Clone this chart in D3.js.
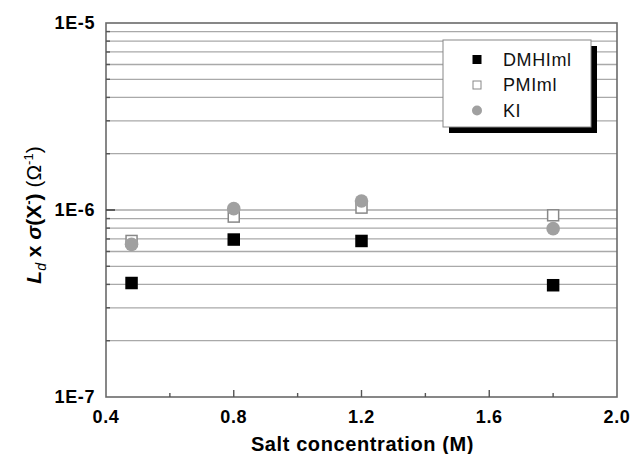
<!DOCTYPE html>
<html><head><meta charset="utf-8">
<script src="https://cdn.jsdelivr.net/npm/d3@7"></script>
<style>
html,body{margin:0;padding:0;background:#fff;}
text{font-family:"Liberation Sans",Arial,sans-serif;}
</style></head>
<body>
<svg id="c" width="632" height="454"></svg>
<script>
// ---- data ----
const concentrations = [0.48, 0.8, 1.2, 1.8];
const dmhiml = [4.07e-7, 6.95e-7, 6.83e-7, 3.96e-7];
const pmiml  = [6.83e-7, 9.22e-7, 1.03e-6, 9.37e-7];
const ki     = [6.55e-7, 1.017e-6, 1.117e-6, 7.95e-7];
const xTickValues = [0.4, 0.8, 1.2, 1.6, 2.0];
const xMinorTicks = [0.6, 1.0, 1.4, 1.8];
const yTickValues = [1e-7, 1e-6, 1e-5];
const yTickLabels = ["1E-7", "1E-6", "1E-5"];
const seriesNames = ["DMHIml", "PMIml", "KI"];

const svg = d3.select("#c");
const L = 106, R = 617, T = 23, B = 397;
const x = d3.scaleLinear().domain([0.4, 2.0]).range([L, R]);
const y = d3.scaleLog().domain([1e-7, 1e-5]).range([B, T]);

// minor grid values
const minorY = [];
[1e-7, 1e-6].forEach(d => { for (let k = 2; k <= 9; k++) minorY.push(k * d); });
const gridY = minorY.concat([1e-6]);

svg.append("g").selectAll("line").data(gridY).join("line")
  .attr("x1", L).attr("x2", R)
  .attr("y1", d => y(d)).attr("y2", d => y(d))
  .attr("stroke", "#a9a9a9").attr("stroke-width", 1.3);

// frame
svg.append("rect").attr("x", L).attr("y", T).attr("width", R - L).attr("height", B - T)
  .attr("fill", "none").attr("stroke", "#6a6a6a").attr("stroke-width", 1.6);

// y ticks (inward)
svg.append("g").selectAll("line").data(minorY).join("line")
  .attr("x1", L).attr("x2", L + 4).attr("y1", d => y(d)).attr("y2", d => y(d))
  .attr("stroke", "#555").attr("stroke-width", 1.4);
svg.append("g").selectAll("line").data([1e-6]).join("line")
  .attr("x1", L).attr("x2", L + 9).attr("y1", d => y(d)).attr("y2", d => y(d))
  .attr("stroke", "#444").attr("stroke-width", 1.6);

// x ticks (inward)
svg.append("g").selectAll("line").data(xTickValues.slice(1, -1)).join("line")
  .attr("x1", d => x(d)).attr("x2", d => x(d)).attr("y1", B).attr("y2", B - 7)
  .attr("stroke", "#555").attr("stroke-width", 1.4);
svg.append("g").selectAll("line").data(xMinorTicks).join("line")
  .attr("x1", d => x(d)).attr("x2", d => x(d)).attr("y1", B).attr("y2", B - 4)
  .attr("stroke", "#555").attr("stroke-width", 1.4);

// tick labels
svg.append("g").selectAll("text").data(yTickValues).join("text")
  .attr("x", L - 11).attr("y", d => y(d)).attr("dy", "0.36em")
  .attr("text-anchor", "end").attr("font-weight", "bold").attr("font-size", 18)
  .attr("letter-spacing", 0.6)
  .text((d, i) => yTickLabels[i]);
svg.append("g").selectAll("text").data(xTickValues).join("text")
  .attr("x", d => x(d)).attr("y", 417).attr("dy", "0.36em")
  .attr("text-anchor", "middle").attr("font-weight", "bold").attr("font-size", 18)
  .attr("letter-spacing", 0.6)
  .text(d => d.toFixed(1));

// axis titles
svg.append("text").attr("x", (L + R) / 2 + 1).attr("y", 444).attr("dy", "0.36em")
  .attr("text-anchor", "middle").attr("font-weight", "bold").attr("font-size", 20)
  .attr("letter-spacing", 0.6)
  .text("Salt concentration (M)");

const yt = svg.append("text").attr("transform", "translate(41,215) rotate(-90)")
  .attr("text-anchor", "middle").attr("font-size", 21).attr("font-weight", "bold");
yt.append("tspan").attr("font-style", "italic").text("L");
yt.append("tspan").attr("font-style", "italic").attr("font-weight", "normal").attr("font-size", 14).attr("dy", 5).text("d");
yt.append("tspan").attr("dy", -5).text(" x ");
yt.append("tspan").attr("font-style", "italic").text("σ");
yt.append("tspan").text("(X");
yt.append("tspan").attr("font-size", 13).attr("dy", -8).text("-");
yt.append("tspan").attr("dy", 8).text(") ");
yt.append("tspan").attr("font-weight", "normal").text("(Ω");
yt.append("tspan").attr("font-weight", "normal").attr("font-size", 13).attr("dy", -8).text("-1");
yt.append("tspan").attr("font-weight", "normal").attr("dy", 8).text(")");

// markers
const S = 12.5;
const pts = (vals) => concentrations.map((c, i) => ({c, v: vals[i]}));
svg.append("g").selectAll("rect").data(pts(dmhiml)).join("rect")
  .attr("x", d => x(d.c) - S / 2).attr("y", d => y(d.v) - S / 2)
  .attr("width", S).attr("height", S).attr("fill", "#000");
svg.append("g").selectAll("rect").data(pts(pmiml)).join("rect")
  .attr("x", d => x(d.c) - (S - 1.5) / 2).attr("y", d => y(d.v) - (S - 1.5) / 2)
  .attr("width", S - 1.5).attr("height", S - 1.5).attr("fill", "#fff")
  .attr("stroke", "#888").attr("stroke-width", 1.5);
svg.append("g").selectAll("circle").data(pts(ki)).join("circle")
  .attr("cx", d => x(d.c)).attr("cy", d => y(d.v)).attr("r", 6.8).attr("fill", "#a0a0a0");

// legend
const lg = svg.append("g");
lg.append("rect").attr("x", 449).attr("y", 46).attr("width", 148).attr("height", 87).attr("fill", "#000");
lg.append("rect").attr("x", 443).attr("y", 40).attr("width", 148).attr("height", 87)
  .attr("fill", "#fff").attr("stroke", "#888").attr("stroke-width", 1);
const rowsY = [59.5, 85, 110.5];
const mx = 477;
lg.append("rect").attr("x", mx - 4.5).attr("y", rowsY[0] - 4.5).attr("width", 9).attr("height", 9).attr("fill", "#000");
lg.append("rect").attr("x", mx - 4).attr("y", rowsY[1] - 4).attr("width", 8).attr("height", 8)
  .attr("fill", "#fff").attr("stroke", "#888").attr("stroke-width", 1);
lg.append("circle").attr("cx", mx).attr("cy", rowsY[2]).attr("r", 5).attr("fill", "#a0a0a0");
lg.selectAll("text.lbl").data(seriesNames).join("text").attr("class", "lbl")
  .attr("x", 503).attr("y", (d, i) => rowsY[i]).attr("dy", "0.36em")
  .attr("font-size", 18).attr("letter-spacing", 0.6).attr("fill", "#111")
  .text(d => d);
</script>
</body></html>
